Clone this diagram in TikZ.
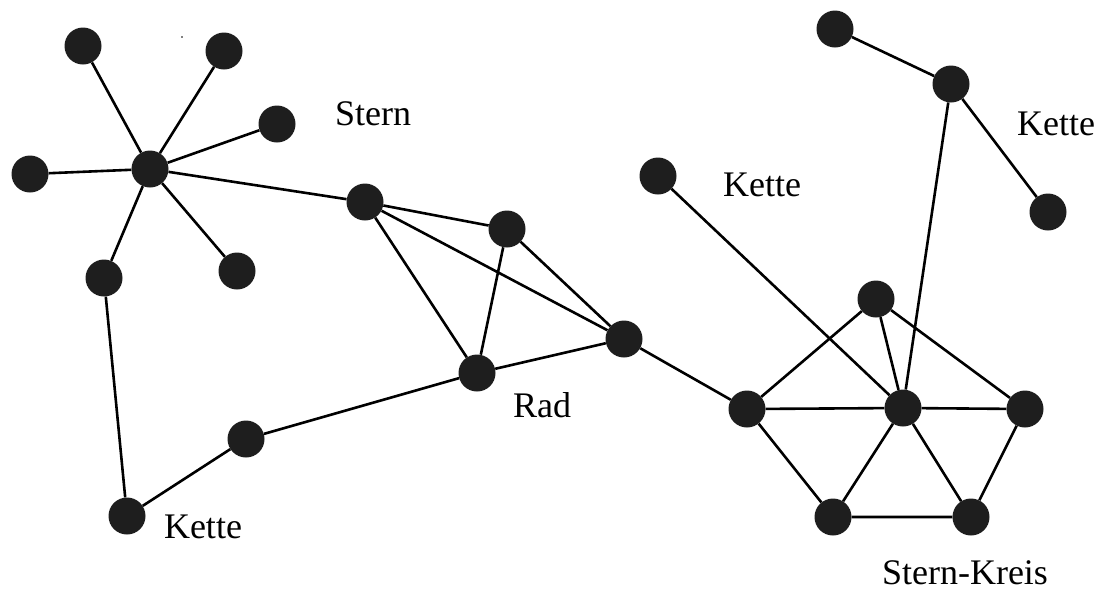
\documentclass[tikz,border=0pt]{standalone}
\usepackage{fontspec}
\setmainfont{Liberation Serif}
\begin{document}
\begin{tikzpicture}[x=1pt,y=-1pt,
  dot/.style={circle,fill={rgb,255:red,30;green,30;blue,30},minimum size=37pt,inner sep=0pt},
  lbl/.style={anchor=base,font=\fontsize{36}{40}\selectfont,inner sep=0pt},
  conn/.style={line width=2.6pt,black}]
\useasboundingbox (0,0) rectangle (1102,590);
% Stern
\node[dot] (a) at (83,46) {};
\node[dot] (b) at (224,51) {};
\node[dot] (c) at (277,124) {};
\node[dot] (d) at (30,174) {};
\node[dot] (e) at (150,169) {};
\node[dot] (f) at (237,271) {};
\node[dot] (g) at (104,278) {};
% Rad
\node[dot] (h) at (365,202) {};
\node[dot] (i) at (507,229) {};
\node[dot] (j) at (624,339) {};
\node[dot] (k) at (477,373) {};
% Kette bottom
\node[dot] (l) at (246,439) {};
\node[dot] (m) at (127,516) {};
% right
\node[dot] (n) at (658,176) {};
\node[dot] (o) at (835,29) {};
\node[dot] (p) at (951,84) {};
\node[dot] (q) at (1048,212) {};
\node[dot] (r) at (876,299) {};
\node[dot] (s) at (747,409) {};
\node[dot] (t) at (903,408) {};
\node[dot] (u) at (1025,409) {};
\node[dot] (v) at (833,517) {};
\node[dot] (w) at (971,517) {};
\fill (182,37) circle (0.8pt);
% edges
\foreach \x in {a,b,c,d,f,g,h} \draw[conn] (e) -- (\x);
\draw[conn] (g) -- (m) -- (l) -- (k) -- (j);
\draw[conn] (h) -- (i) -- (j) -- (h) -- (k) -- (i);
\draw[conn] (j) -- (s);
\draw[conn] (n) -- (t);
\draw[conn] (o) -- (p) -- (q);
\draw[conn] (p) -- (t);
\draw[conn] (s) -- (r) -- (u) -- (w) -- (v) -- (s) -- (t) -- (u);
\draw[conn] (r) -- (t) -- (v);
\draw[conn] (t) -- (w);
% labels
\node[lbl] (l1) at (373,125) {Stern};
\node[lbl] (l2) at (542,417) {Rad};
\node[lbl] (l3) at (762,196) {Kette};
\node[lbl] (l4) at (1056,135) {Kette};
\node[lbl] (l5) at (203,538) {Kette};
\node[lbl] (l6) at (965,584) {Stern-Kreis};
\end{tikzpicture}
\end{document}
